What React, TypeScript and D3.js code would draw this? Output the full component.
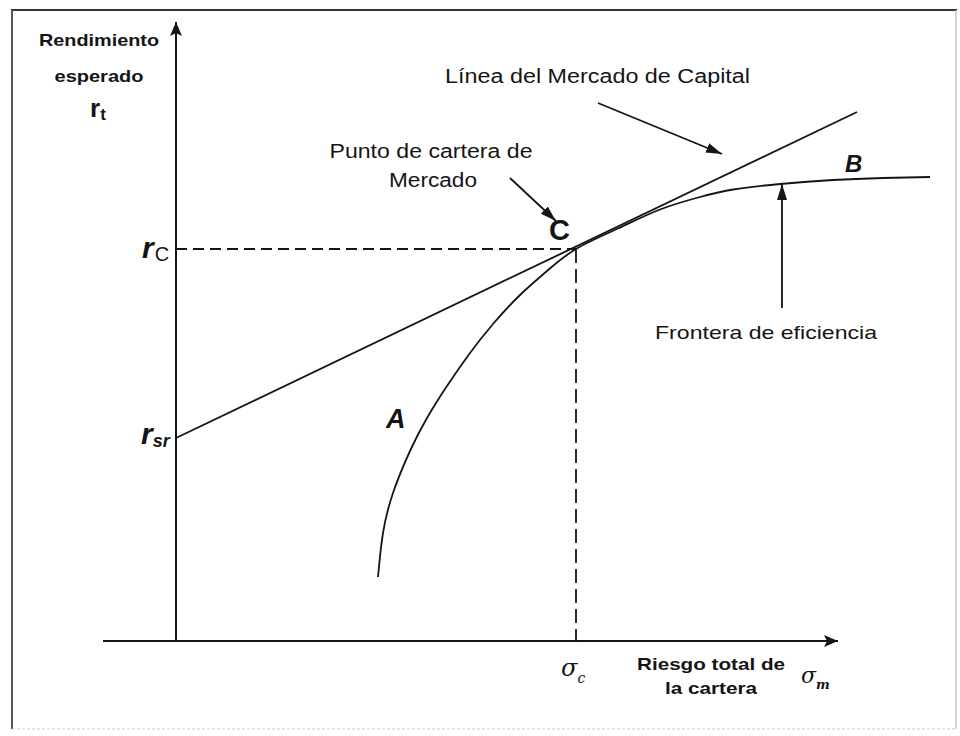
import React from "react";
import * as d3 from "d3";

// Efficient frontier (sigma, expected return)
const frontierSigma = [20.2, 20.7, 21.7, 23.4, 25.1, 27.1, 29.4, 31.7, 34.4, 37.1, 40.0, 44.2, 48.4, 52.4, 55.7, 60.4, 65.7, 70.7, 75.4];
const frontierReturn = [6.4, 10.8, 14.8, 19.0, 22.3, 25.5, 28.8, 31.7, 34.6, 37.0, 39.2, 41.25, 43.15, 44.4, 45.15, 45.7, 46.1, 46.3, 46.4];

// Capital market line endpoints
const cmlSigma = [0, 68.1];
const cmlReturn = [20.3, 52.9];

// Key values
const riskFree = 20.3;
const marketSigma = 40.0;
const marketReturn = 39.2;

const W = 960;
const H = 736;

const FONT = "'Liberation Sans', Arial, Helvetica, sans-serif";

export default function App() {
  const x = d3.scaleLinear().domain([0, 66.2]).range([176, 838]);
  const y = d3.scaleLinear().domain([0, 61.9]).range([641, 22]);

  const frontier = frontierSigma.map((s, i) => [s, frontierReturn[i]] as [number, number]);
  const cml = cmlSigma.map((s, i) => [s, cmlReturn[i]] as [number, number]);

  const curveLine = d3
    .line<[number, number]>()
    .x((d) => x(d[0]))
    .y((d) => y(d[1]))
    .curve(d3.curveNatural);
  const straight = d3
    .line<[number, number]>()
    .x((d) => x(d[0]))
    .y((d) => y(d[1]));

  const x0 = x(0);
  const y0 = y(0);
  const xc = x(marketSigma);
  const yc = y(marketReturn);
  const yrf = y(riskFree);

  const ink = "#151515";

  return (
    <svg
      width={W}
      height={H}
      viewBox={`0 0 ${W} ${H}`}
      style={{ position: "absolute", left: 0, top: 0, background: "#fff" }}
    >
      <defs>
        <marker
          id="head"
          markerUnits="userSpaceOnUse"
          markerWidth={16}
          markerHeight={10}
          refX={16}
          refY={5}
          orient="auto"
        >
          <path d="M0,0 L16,5 L0,10 Z" fill={ink} />
        </marker>
        <marker
          id="axhead"
          markerUnits="userSpaceOnUse"
          markerWidth={14}
          markerHeight={12}
          refX={14}
          refY={6}
          orient="auto"
        >
          <path d="M0,0 L14,6 L0,12 L3,6 Z" fill={ink} />
        </marker>
      </defs>

      <rect x={0} y={0} width={W} height={H} fill="#fff" />
      {/* frame */}
      <line x1={11} y1={10} x2={957} y2={10} stroke="#333" strokeWidth={2} />
      <line x1={12} y1={10} x2={12} y2={729} stroke="#555" strokeWidth={2} />
      <line x1={956} y1={10} x2={956} y2={729} stroke="#bbb" strokeWidth={1.2} />
      <line x1={12} y1={729} x2={956} y2={729} stroke="#ccc" strokeWidth={1.2} strokeDasharray="3,2" />

      {/* axes */}
      <line x1={x0} y1={y0} x2={x0} y2={y(61.9)} stroke={ink} strokeWidth={2} markerEnd="url(#axhead)" />
      <line x1={103} y1={y0} x2={x(66.2)} y2={y0} stroke={ink} strokeWidth={2} markerEnd="url(#axhead)" />

      {/* dashed guides */}
      <line x1={x0} y1={yc} x2={xc} y2={yc} stroke={ink} strokeWidth={1.8} strokeDasharray="11,6" />
      <line x1={xc} y1={yc} x2={xc} y2={y0} stroke={ink} strokeWidth={1.8} strokeDasharray="14,6" />

      {/* capital market line and frontier */}
      <path d={straight(cml) || ""} fill="none" stroke={ink} strokeWidth={1.8} />
      <path d={curveLine(frontier) || ""} fill="none" stroke={ink} strokeWidth={1.8} />

      {/* annotation arrows */}
      <line x1={598} y1={103} x2={722} y2={154} stroke={ink} strokeWidth={1.8} markerEnd="url(#head)" />
      <line x1={510} y1={178} x2={556} y2={221} stroke={ink} strokeWidth={1.8} markerEnd="url(#head)" />
      <line x1={782} y1={308} x2={782} y2={184} stroke={ink} strokeWidth={1.8} markerEnd="url(#head)" />

      <g fontFamily={FONT} fill={ink}>
        {/* y axis title */}
        <text x={99} y={46} fontSize={17} fontWeight="bold" textAnchor="middle" textLength={120} lengthAdjust="spacingAndGlyphs">
          Rendimiento
        </text>
        <text x={99} y={82} fontSize={17} fontWeight="bold" textAnchor="middle" textLength={89} lengthAdjust="spacingAndGlyphs">
          esperado
        </text>
        <text x={90} y={117} fontSize={26} fontWeight="bold">
          r
          <tspan fontSize={17} dy={3}>t</tspan>
        </text>

        {/* y tick labels */}
        <text x={142} y={yc + 9} fontSize={30} fontWeight="bold" fontStyle="italic">
          r
          <tspan fontSize={20} fontWeight="normal" fontStyle="normal" dx={1} dy={3}>C</tspan>
        </text>
        <text x={141} y={yrf + 6} fontSize={30} fontWeight="bold" fontStyle="italic">
          r
          <tspan fontSize={18} dx={0} dy={3}>sr</tspan>
        </text>

        {/* annotations */}
        <text x={445} y={83} fontSize={20} textLength={305} lengthAdjust="spacingAndGlyphs">
          Línea del Mercado de Capital
        </text>
        <text x={431} y={158} fontSize={20} textAnchor="middle" textLength={203} lengthAdjust="spacingAndGlyphs">
          Punto de cartera de
        </text>
        <text x={433} y={187} fontSize={20} textAnchor="middle" textLength={88} lengthAdjust="spacingAndGlyphs">
          Mercado
        </text>
        <text x={655} y={339} fontSize={19} textLength={222} lengthAdjust="spacingAndGlyphs">
          Frontera de eficiencia
        </text>

        <text x={549} y={240} fontSize={29} fontWeight="bold">
          C
        </text>
        <text x={845} y={172} fontSize={24} fontWeight="bold" fontStyle="italic">
          B
        </text>
        <text x={386} y={428} fontSize={27} fontWeight="bold" fontStyle="italic">
          A
        </text>

        {/* x axis labels */}
        <text x={711} y={670} fontSize={17} fontWeight="bold" textAnchor="middle" textLength={148} lengthAdjust="spacingAndGlyphs">
          Riesgo total de
        </text>
        <text x={711} y={694} fontSize={17} fontWeight="bold" textAnchor="middle" textLength={92} lengthAdjust="spacingAndGlyphs">
          la cartera
        </text>
      </g>

      <g fontFamily="'DejaVu Serif', 'Liberation Serif', serif" fill={ink} fontStyle="italic">
        <text x={xc - 15} y={676} fontSize={24}>
          σ
          <tspan fontSize={14} dy={7}>c</tspan>
        </text>
        <text x={801} y={683} fontSize={22}>
          σ
          <tspan fontSize={13} fontWeight="bold" dy={6}>m</tspan>
        </text>
      </g>
    </svg>
  );
}
